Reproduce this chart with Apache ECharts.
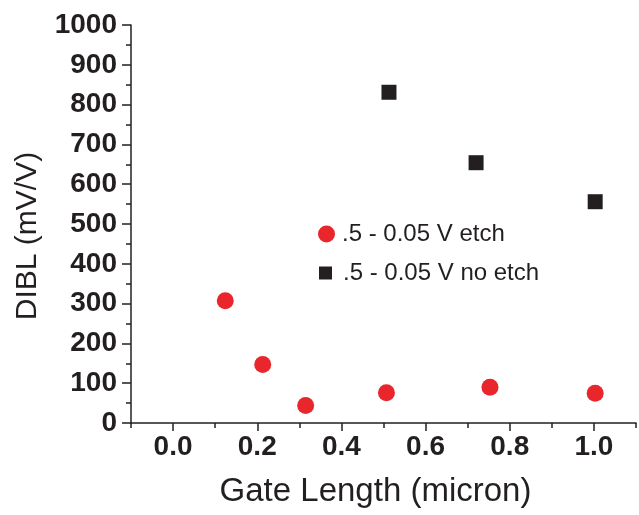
<!DOCTYPE html>
<html>
<head>
<meta charset="utf-8">
<script src="https://cdn.jsdelivr.net/npm/echarts@6/dist/echarts.min.js"></script>
<style>
  html, body { margin: 0; padding: 0; background: #fff; }
  #chart { width: 639px; height: 515px; }
</style>
</head>
<body>
<div id="chart"></div>
<script>
// DIBL vs gate length, two process variants
const seriesNames = ['.5 - 0.05 V etch', '.5 - 0.05 V no etch'];

const etchX = [0.124, 0.213, 0.315, 0.507, 0.753, 1.003];
const etchY = [307, 147, 44, 76, 90, 75];

const noEtchX = [0.513, 0.720, 1.003];
const noEtchY = [831, 654, 556];

const xMajorTicks = [0.0, 0.2, 0.4, 0.6, 0.8, 1.0];

const INK = '#231f20';
const RED = '#e8262b';
const FONT = '"Liberation Sans", Arial, sans-serif';

const zip = (xs, ys) => xs.map((x, i) => [x, ys[i]]);

const chart = echarts.init(document.getElementById('chart'), null, { renderer: 'canvas' });

chart.setOption({
  animation: false,
  backgroundColor: '#fff',
  grid: { left: 131, right: 3, top: 25, bottom: 92, containLabel: false, outerBoundsMode: 'none' },
  xAxis: [
    {
      // minor ticks every 0.1 plus the axis line and title
      type: 'value', min: -0.1, max: 1.1, interval: 0.1,
      position: 'bottom',
      axisLine: { show: true, onZero: false, lineStyle: { color: INK, width: 1.5 } },
      axisTick: { show: true, inside: false, length: 5, lineStyle: { color: INK, width: 1.5 } },
      axisLabel: { show: false },
      splitLine: { show: false },
      name: 'Gate Length (micron)',
      nameLocation: 'middle',
      nameGap: 52,
      nameTextStyle: { fontFamily: FONT, fontSize: 33, color: INK, padding: [0, 16, 0, 0] }
    },
    {
      // labelled major ticks
      type: 'value', min: -0.1, max: 1.1,
      position: 'bottom',
      axisLine: { show: false, onZero: false },
      axisTick: { show: true, length: 8, customValues: xMajorTicks, lineStyle: { color: INK, width: 1.5 } },
      axisLabel: {
        show: true, customValues: xMajorTicks, margin: 10,
        fontFamily: FONT, fontSize: 28, fontWeight: 'bold', color: INK,
        formatter: v => v.toFixed(1)
      },
      splitLine: { show: false }
    }
  ],
  yAxis: {
    type: 'value', min: 0, max: 1000, interval: 100,
    position: 'left',
    axisLine: { show: true, onZero: false, lineStyle: { color: INK, width: 1.5 } },
    axisTick: { show: true, length: 9, lineStyle: { color: INK, width: 1.5 } },
    minorTick: { show: true, splitNumber: 2, length: 5, lineStyle: { color: INK, width: 1.5 } },
    axisLabel: {
      margin: 14, fontFamily: FONT, fontSize: 28, fontWeight: 'bold', color: INK,
      formatter: v => String(v)
    },
    splitLine: { show: false },
    name: 'DIBL (mV/V)',
    nameLocation: 'middle',
    nameGap: 88,
    nameTextStyle: { fontFamily: FONT, fontSize: 30, color: INK, padding: [0, 24, 0, 0] }
  },
  legend: [
    {
      data: [{ name: seriesNames[0], icon: 'circle' }],
      left: 313, top: 217,
      itemWidth: 17, itemHeight: 17,
      textStyle: { fontFamily: FONT, fontSize: 24, color: INK, padding: [0, 0, 0, 2] }
    },
    {
      data: [{ name: seriesNames[1], icon: 'rect' }],
      left: 314, top: 256,
      itemWidth: 13, itemHeight: 13,
      textStyle: { fontFamily: FONT, fontSize: 24, color: INK, padding: [0, 0, 0, 6] }
    }
  ],
  series: [
    {
      name: seriesNames[0], type: 'scatter', xAxisIndex: 0,
      symbol: 'circle', symbolSize: 17,
      itemStyle: { color: RED, opacity: 1 },
      data: zip(etchX, etchY)
    },
    {
      name: seriesNames[1], type: 'scatter', xAxisIndex: 0,
      symbol: 'rect', symbolSize: 15,
      itemStyle: { color: INK, opacity: 1 },
      data: zip(noEtchX, noEtchY)
    }
  ]
});
</script>
</body>
</html>
